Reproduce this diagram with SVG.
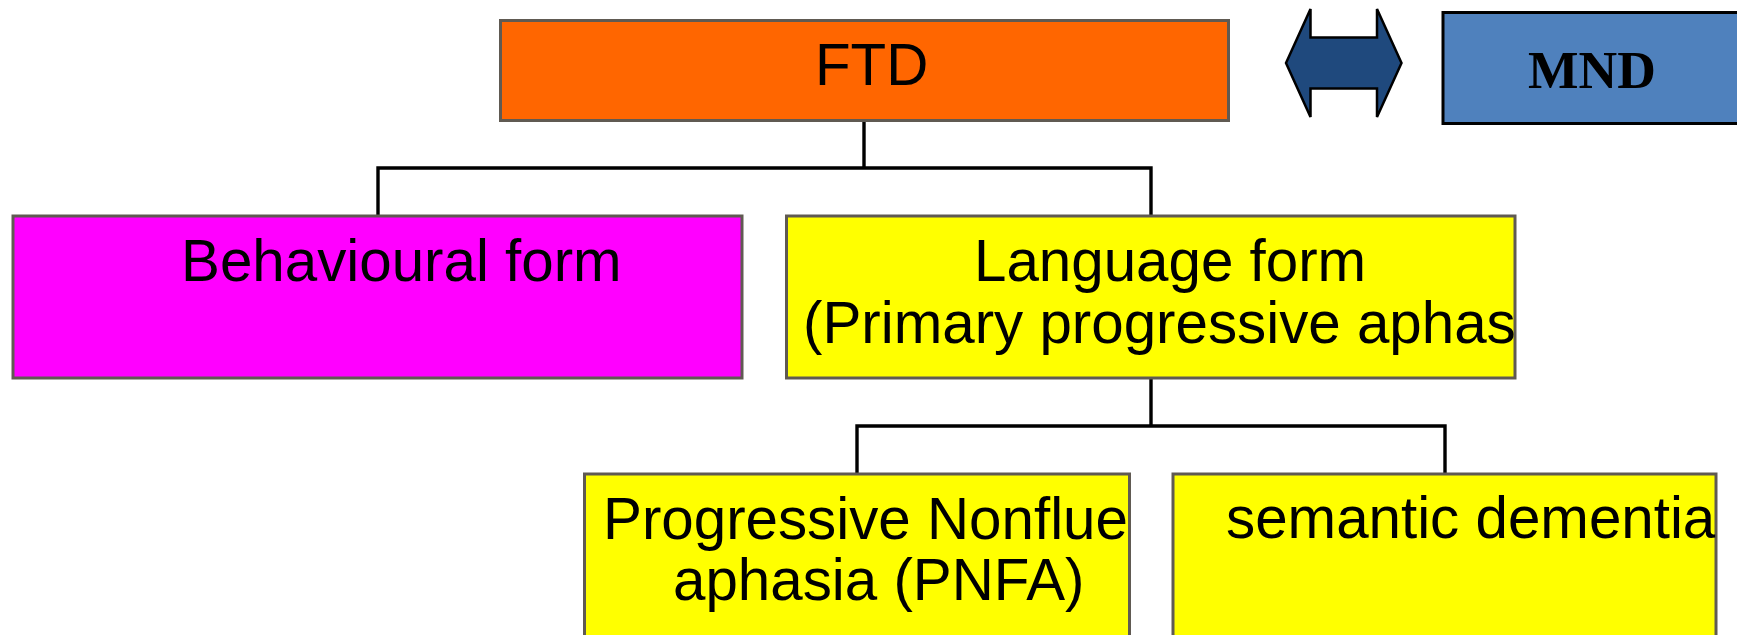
<svg xmlns="http://www.w3.org/2000/svg" width="1737" height="635" viewBox="0 0 1737 635">
<style>
.box{stroke:#605a52;stroke-width:3}
.lbl{font-family:"Liberation Sans",Arial,sans-serif;font-size:58.3px;fill:#000}
.conn{fill:none;stroke:#000;stroke-width:3.4}
</style>
<defs>
<clipPath id="clipLang"><rect x="786" y="216" width="728" height="162"/></clipPath>
<clipPath id="clipPnfa"><rect x="584" y="474" width="544" height="180"/></clipPath>
</defs>
<rect width="1737" height="635" fill="#fff"/>
<g id="connectors">
<path class="conn" d="M864,120 V168 M378,216 V168 H1151 V216"/>
<path class="conn" d="M1151,378 V426 M857,474 V426 H1445 V474"/>
</g>
<g id="ftd">
<rect class="box" x="500.5" y="20.5" width="728" height="100" fill="#ff6600"/>
<text class="lbl" x="815" y="85">FTD</text>
</g>
<g id="arrow">
<polygon points="1286,63 1310.5,9 1310.5,37.5 1377,37.5 1377,9 1401.5,63 1377,117 1377,88.5 1310.5,88.5 1310.5,117" fill="#1f497d" stroke="#000" stroke-width="2.5" stroke-linejoin="miter"/>
</g>
<g id="mnd">
<rect x="1443" y="12.5" width="310" height="111" fill="#4f81bd" stroke="#000" stroke-width="3"/>
<text x="1592" y="88" text-anchor="middle" font-family="'Liberation Serif','Times New Roman',serif" font-weight="bold" font-size="53.5">MND</text>
</g>
<g id="behavioural">
<rect class="box" x="13" y="216" width="729" height="162" fill="#ff00ff"/>
<text class="lbl" x="181" y="281">Behavioural form</text>
</g>
<g id="language">
<rect class="box" x="786.5" y="216" width="728.5" height="162" fill="#ffff00"/>
<g clip-path="url(#clipLang)">
<text class="lbl" x="974" y="281">Language form</text>
<text class="lbl" x="803" y="343">(Primary progressive aphas</text>
</g>
</g>
<g id="pnfa">
<rect class="box" x="584.5" y="474" width="545" height="180" fill="#ffff00"/>
<g clip-path="url(#clipPnfa)">
<text class="lbl" x="603" y="539">Progressive Nonfluen</text>
<text class="lbl" x="673" y="600">aphasia (PNFA)</text>
</g>
</g>
<g id="semantic">
<rect class="box" x="1173" y="474" width="543" height="180" fill="#ffff00"/>
<text class="lbl" x="1226" y="538">semantic dementia</text>
</g>
</svg>
